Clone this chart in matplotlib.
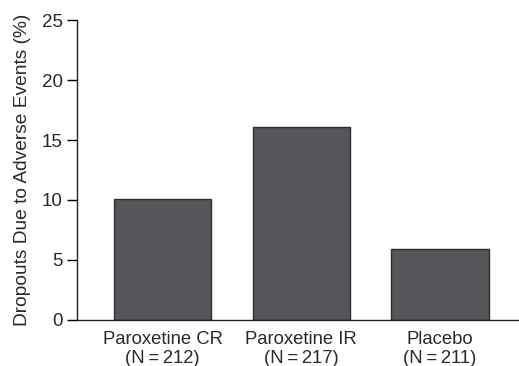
import matplotlib
matplotlib.use("Agg")
import matplotlib.pyplot as plt

categories = ["Paroxetine CR\n(N\u2009=\u2009212)", "Paroxetine IR\n(N\u2009=\u2009217)", "Placebo\n(N\u2009=\u2009211)"]
dropouts = [10.1, 16.1, 5.9]
yticks = [0, 5, 10, 15, 20, 25]

plt.rcParams['font.family'] = ['Liberation Sans', 'DejaVu Sans']

fig = plt.figure(figsize=(5.19, 3.66), dpi=100)
ax = fig.add_axes([0.148, 0.126, 0.852, 0.819])

ax.bar(range(len(categories)), dropouts, width=0.70, color="#55565a",
       edgecolor="#2e2e30", linewidth=1.0)

ax.set_xlim(-0.62, 2.57)
ax.set_ylim(0, 25)
ax.set_yticks(yticks)
ax.set_xticks(range(len(categories)))
ax.set_xticklabels(categories, fontsize=13.3, color="#2a2a2a", linespacing=1.12)
ax.tick_params(axis='y', labelsize=13.5, labelcolor="#2a2a2a", length=7, width=1, direction='out', pad=3)
ax.tick_params(axis='x', length=0, pad=8)
ax.set_ylabel("Dropouts Due to Adverse Events (%)", fontsize=13.8, color="#2a2a2a", labelpad=8)

for s in ["top", "right"]:
    ax.spines[s].set_visible(False)
for s in ["left", "bottom"]:
    ax.spines[s].set_linewidth(1.0)
    ax.spines[s].set_color("#222222")

fig.savefig("out.png", dpi=100)
